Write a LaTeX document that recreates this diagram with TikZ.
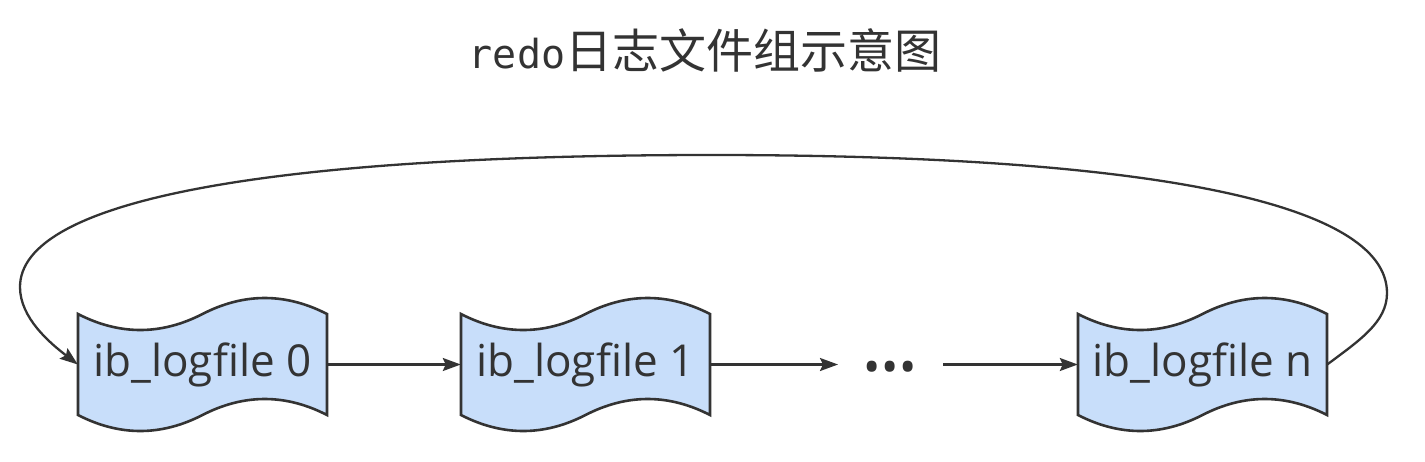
\documentclass[tikz,border=0pt]{standalone}
\usepackage{fontspec}
\setmainfont{Open Sans}
\newfontfamily\cjkfont{Noto Sans CJK SC}
\newfontfamily\monof{DejaVu Sans Mono}
\usetikzlibrary{arrows.meta}
\definecolor{inkc}{HTML}{333333}
\definecolor{boxfill}{RGB}{200,222,250}
\tikzset{
  filebox/.style={minimum width=249pt, minimum height=101pt, inner sep=0pt,
    font=\fontsize{44}{52}\selectfont, text=inkc},
  tapeshape/.pic={
    \draw[line width=2.6pt, draw=inkc, fill=boxfill, line join=miter]
      (-124.5,-50.5) .. controls (-83,-29.17) and (-41.5,-29.17) .. (0,-50.5)
      .. controls (41.5,-71.83) and (83,-71.83) .. (124.5,-50.5)
      -- (124.5,50.5)
      .. controls (83,29.17) and (41.5,29.17) .. (0,50.5)
      .. controls (-41.5,71.83) and (-83,71.83) .. (-124.5,50.5)
      -- cycle;
  },
  conn/.style={line width=2.3pt, draw=inkc, -{Stealth[length=18pt,width=13pt,inset=3pt]}},
}
\begin{document}
\begin{tikzpicture}[x=1pt,y=-1pt]
\useasboundingbox (0,0) rectangle (1425,461);
% title
\node[text=inkc, inner sep=0pt] (title) at (705,50)
  {{\monof\fontsize{40}{48}\selectfont redo}{\cjkfont\fontsize{47}{56}\selectfont 日志文件组示意图}};
% boxes
\pic at (202.5,364.5) {tapeshape};
\pic at (585.5,364.5) {tapeshape};
\pic at (1202.5,364.5) {tapeshape};
\node[filebox] (b0) at (202.5,364.5) {ib\_logfile 0};
\node[filebox] (b1) at (585.5,364.5) {ib\_logfile 1};
\node[filebox] (bn) at (1202.5,364.5) {ib\_logfile n};
\node[inner sep=0pt, text=inkc, anchor=base, font=\fontsize{46}{46}\selectfont] (dots) at (890,383)
  {\textbullet\hspace{0.5pt}\textbullet\hspace{0.5pt}\textbullet};
\coordinate (dw) at (838,364.5);
\coordinate (de) at (943,364.5);
% connectors
\draw[conn] (b0.east) -- (b1.west);
\draw[conn] (b1.east) -- (dw);
\draw[conn] (de) -- (bn.west);
\draw[conn] (bn.east) .. controls (1360,340) and (1387,322) .. (1387,293)
  .. controls (1387,203) and (1151,155) .. (712,155)
  .. controls (262,155) and (20,201) .. (20,287)
  .. controls (20,318) and (50,343) .. (b0.west);
\end{tikzpicture}
\end{document}
